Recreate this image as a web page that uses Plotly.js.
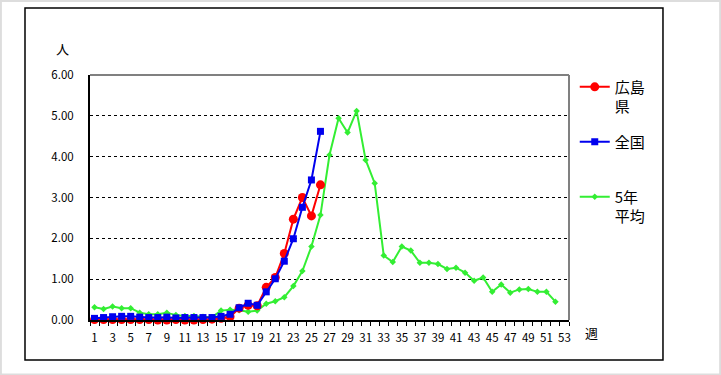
<!DOCTYPE html>
<html>
<head>
<meta charset="utf-8">
<script src="https://cdn.plot.ly/plotly-3.0.1.min.js"></script>
<style>html,body{margin:0;padding:0;background:#fff;}#chart{width:721px;height:375px;}</style>
</head>
<body>
<div id="chart"></div>
<script>
const weeks = Array.from({length: 53}, (_, i) => i + 1);
const hiroshimaWeeks = weeks.slice(0, 26);
const hiroshima = [0.01,0.01,0.01,0.01,0.01,0.01,0.01,0.00,0.00,0.01,0.00,0.00,0.01,0.02,0.04,0.08,0.29,0.36,0.35,0.80,1.04,1.63,2.47,3.00,2.55,3.31];
const zenkokuWeeks = weeks.slice(0, 26);
const zenkoku = [0.04,0.06,0.08,0.09,0.09,0.07,0.06,0.06,0.07,0.05,0.06,0.06,0.06,0.06,0.09,0.14,0.30,0.41,0.36,0.69,1.01,1.44,1.99,2.76,3.43,4.62];
const avgWeeks = weeks.slice(0, 52);
const avg5 = [0.31,0.27,0.33,0.29,0.29,0.18,0.14,0.14,0.18,0.12,0.10,0.10,0.08,0.07,0.23,0.25,0.24,0.20,0.23,0.40,0.46,0.56,0.83,1.20,1.80,2.57,4.04,4.94,4.59,5.12,3.92,3.35,1.58,1.42,1.80,1.70,1.40,1.40,1.37,1.25,1.28,1.16,0.96,1.04,0.69,0.87,0.67,0.75,0.76,0.69,0.69,0.45];
const xTickLabels = weeks.filter(w => w % 2 === 1);
const seriesNames = ['広島<br>県', '全国<br>&nbsp;', '5年<br>平均'];
const yTicks = [0, 1, 2, 3, 4, 5, 6];

const FONT = '"Noto Sans CJK JP", "Noto Sans", sans-serif';

const traces = [
  {x: avgWeeks, y: avg5, name: seriesNames[2], legendgroup: 'c', legendrank: 3, type: 'scatter', mode: 'lines+markers',
   line: {color: '#33ee33', width: 2}, marker: {color: '#33ee33', size: 5, symbol: 'diamond'}, cliponaxis: false},
  {x: zenkokuWeeks, y: zenkoku, name: seriesNames[1], legendgroup: 'b', legendrank: 2, type: 'scatter', mode: 'lines+markers',
   line: {color: '#0000ee', width: 2}, marker: {color: '#0000ee', size: 7, symbol: 'square'}, cliponaxis: false},
  {x: hiroshimaWeeks, y: hiroshima, name: seriesNames[0], legendgroup: 'a', legendrank: 1, type: 'scatter', mode: 'lines+markers',
   line: {color: '#ff0000', width: 2}, marker: {color: '#ff0000', size: 9, symbol: 'circle'}, cliponaxis: false}
];

const data = [traces[0], traces[2], traces[1]];

const layout = {
  width: 721, height: 375,
  margin: {l: 90, r: 152, t: 75, b: 55},
  paper_bgcolor: '#ffffff', plot_bgcolor: '#ffffff',
  font: {family: FONT, size: 11, color: '#000'},
  showlegend: true,
  legend: {x: 1.012, y: 1.018, xanchor: 'left', yanchor: 'top', traceorder: 'grouped', tracegroupgap: 13,
           valign: 'top', itemwidth: 30, font: {family: FONT, size: 15, color: '#000'}, bgcolor: 'rgba(0,0,0,0)'},
  xaxis: {range: [0.5, 53.5], tickmode: 'array', tickvals: xTickLabels, ticktext: xTickLabels.map(String),
          ticks: '', showgrid: false, zeroline: false, showline: true, linecolor: '#000', linewidth: 2,
          ticklabelstandoff: 6, tickfont: {family: FONT, size: 11.5},
          minor: {tickmode: 'linear', tick0: 0.5, dtick: 1, ticks: 'outside', ticklen: 4, tickcolor: '#000', tickwidth: 1, showgrid: false},
          fixedrange: true},
  yaxis: {range: [0, 6], tickmode: 'array', tickvals: yTicks, ticktext: yTicks.map(v => v.toFixed(2)),
          ticks: '', showgrid: true, gridcolor: '#000', griddash: 'dot', gridwidth: 1,
          zeroline: false, showline: true, linecolor: '#000', linewidth: 2,
          ticklabelstandoff: 12, tickfont: {family: FONT, size: 11.5}, fixedrange: true},
  shapes: [
    {type: 'line', xref: 'paper', yref: 'paper', x0: 0, x1: 1, y0: 1, y1: 1, line: {color: '#808080', width: 2}},
    {type: 'line', xref: 'paper', yref: 'paper', x0: 1, x1: 1, y0: 0, y1: 1, line: {color: '#808080', width: 2}},
    {type: 'rect', xref: 'paper', yref: 'paper', x0: -0.1357, x1: 1.1962, y0: -0.1633, y1: 1.2735, line: {color: '#000', width: 1.5}},
    {type: 'rect', xref: 'paper', yref: 'paper', x0: -0.186, x1: 1.3156, y0: -0.222, y1: 1.302, line: {color: '#dddddd', width: 2}}
  ],
  annotations: [
    {text: '人', xref: 'paper', yref: 'paper', x: -0.0564, y: 1.110, showarrow: false, xanchor: 'center', yanchor: 'middle', font: {family: FONT, size: 13}},
    {text: '週', xref: 'paper', yref: 'paper', x: 1.048, y: -0.053, showarrow: false, xanchor: 'center', yanchor: 'middle', font: {family: FONT, size: 13}}
  ]
};

Plotly.newPlot('chart', data, layout, {displayModeBar: false, staticPlot: true});
</script>
</body>
</html>
